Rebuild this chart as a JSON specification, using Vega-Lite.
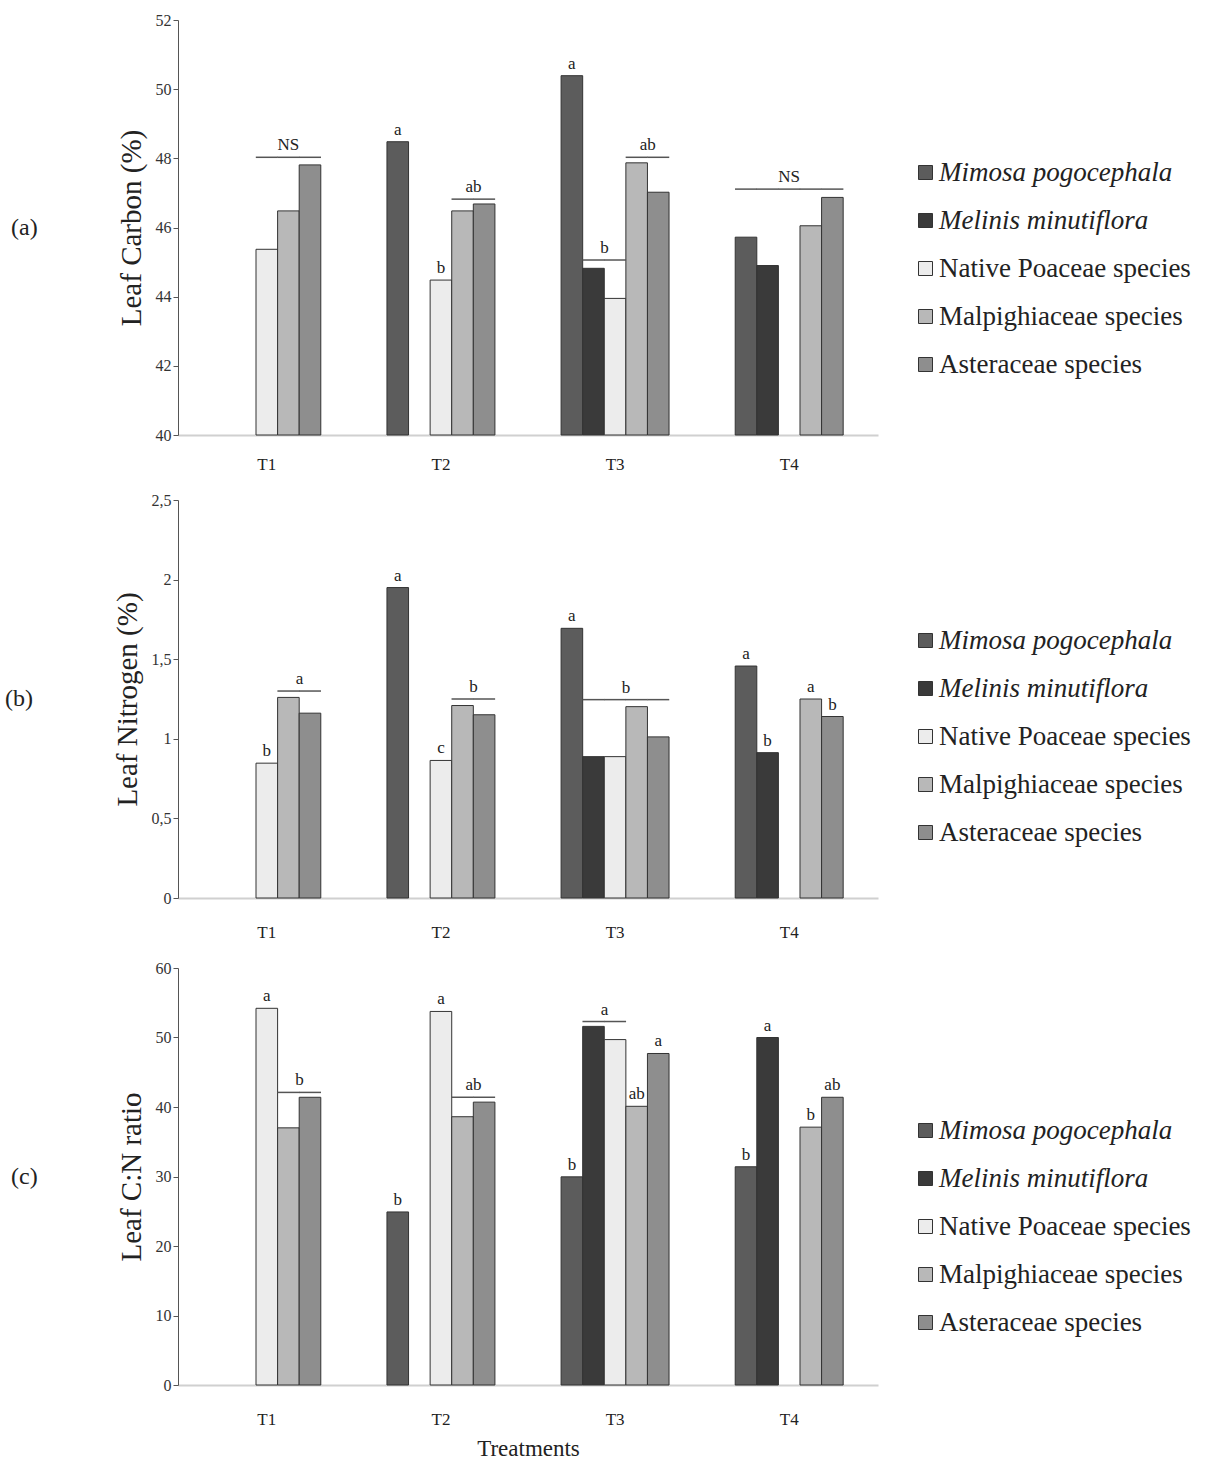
{
  "$schema": "https://vega.github.io/schema/vega-lite/v6.json",
  "background": "white",
  "padding": {"left": 5, "top": 12, "right": 5, "bottom": 5},
  "config": {
    "font": "Liberation Serif",
    "view": {"stroke": null},
    "axisY": {"domainColor": "#555", "tickColor": "#555", "tickSize": 5, "labelFontSize": 16, "labelColor": "#333", "grid": false, "titleFontSize": 29, "titleFontWeight": "normal", "titleColor": "#222", "titlePadding": 9, "labelFont": "Liberation Serif", "titleFont": "Liberation Serif"},
    "axisX": {"domainColor": "#d0d0d0", "domainWidth": 2, "ticks": false, "labelFontSize": 17, "labelColor": "#222", "labelPadding": 26, "labelAngle": 0, "titleFontSize": 23, "titleFontWeight": "normal", "titleColor": "#222", "labelFont": "Liberation Serif", "titleFont": "Liberation Serif"},
    "legend": {"title": null, "labelFontSize": 27, "labelFont": "Liberation Serif", "labelColor": "#222", "symbolType": "square", "symbolSize": 196, "symbolStrokeColor": "#333", "symbolStrokeWidth": 1, "rowPadding": 20, "labelOffset": 0, "labelLimit": 400},
    "title": {"font": "Liberation Serif", "fontSize": 24, "fontWeight": "normal", "color": "#222"}
  },
  "datasets": {
    "carbon": [
      {"T": "T1", "species": "Native Poaceae species", "value": 45.37},
      {"T": "T1", "species": "Malpighiaceae species", "value": 46.48},
      {"T": "T1", "species": "Asteraceae species", "value": 47.81},
      {"T": "T2", "species": "Mimosa pogocephala", "value": 48.48},
      {"T": "T2", "species": "Native Poaceae species", "value": 44.48},
      {"T": "T2", "species": "Malpighiaceae species", "value": 46.48},
      {"T": "T2", "species": "Asteraceae species", "value": 46.68},
      {"T": "T3", "species": "Mimosa pogocephala", "value": 50.39},
      {"T": "T3", "species": "Melinis minutiflora", "value": 44.82},
      {"T": "T3", "species": "Native Poaceae species", "value": 43.95},
      {"T": "T3", "species": "Malpighiaceae species", "value": 47.87},
      {"T": "T3", "species": "Asteraceae species", "value": 47.02},
      {"T": "T4", "species": "Mimosa pogocephala", "value": 45.72},
      {"T": "T4", "species": "Melinis minutiflora", "value": 44.9},
      {"T": "T4", "species": "Malpighiaceae species", "value": 46.05},
      {"T": "T4", "species": "Asteraceae species", "value": 46.87}
    ],
    "carbonLines": [
      {"T": "T1", "species": ["Native Poaceae species", "Malpighiaceae species", "Asteraceae species"], "value": 48.03},
      {"T": "T2", "species": ["Malpighiaceae species", "Asteraceae species"], "value": 46.82},
      {"T": "T3", "species": ["Melinis minutiflora", "Native Poaceae species"], "value": 45.06},
      {"T": "T3", "species": ["Malpighiaceae species", "Asteraceae species"], "value": 48.03},
      {"T": "T4", "species": ["Mimosa pogocephala", "Melinis minutiflora", "Native Poaceae species", "Malpighiaceae species", "Asteraceae species"], "value": 47.11}
    ],
    "carbonLabels": [
      {"T": "T1", "species": "Malpighiaceae species", "value": 48.03, "label": "NS"},
      {"T": "T2", "species": "Mimosa pogocephala", "value": 48.48, "label": "a"},
      {"T": "T2", "species": "Native Poaceae species", "value": 44.48, "label": "b"},
      {"T": "T3", "species": "Mimosa pogocephala", "value": 50.39, "label": "a"},
      {"T": "T4", "species": "Native Poaceae species", "value": 47.11, "label": "NS"}
    ],
    "carbonPairLabels": [
      {"T": "T2", "species": "Malpighiaceae species", "value": 46.82, "label": "ab"},
      {"T": "T3", "species": "Melinis minutiflora", "value": 45.06, "label": "b"},
      {"T": "T3", "species": "Malpighiaceae species", "value": 48.03, "label": "ab"}
    ],
    "nitrogen": [
      {"T": "T1", "species": "Native Poaceae species", "value": 0.847},
      {"T": "T1", "species": "Malpighiaceae species", "value": 1.26},
      {"T": "T1", "species": "Asteraceae species", "value": 1.161},
      {"T": "T2", "species": "Mimosa pogocephala", "value": 1.95},
      {"T": "T2", "species": "Native Poaceae species", "value": 0.864},
      {"T": "T2", "species": "Malpighiaceae species", "value": 1.209},
      {"T": "T2", "species": "Asteraceae species", "value": 1.151},
      {"T": "T3", "species": "Mimosa pogocephala", "value": 1.694},
      {"T": "T3", "species": "Melinis minutiflora", "value": 0.888},
      {"T": "T3", "species": "Native Poaceae species", "value": 0.888},
      {"T": "T3", "species": "Malpighiaceae species", "value": 1.202},
      {"T": "T3", "species": "Asteraceae species", "value": 1.012},
      {"T": "T4", "species": "Mimosa pogocephala", "value": 1.457},
      {"T": "T4", "species": "Melinis minutiflora", "value": 0.913},
      {"T": "T4", "species": "Malpighiaceae species", "value": 1.25},
      {"T": "T4", "species": "Asteraceae species", "value": 1.14}
    ],
    "nitrogenLines": [
      {"T": "T1", "species": ["Malpighiaceae species", "Asteraceae species"], "value": 1.30},
      {"T": "T2", "species": ["Malpighiaceae species", "Asteraceae species"], "value": 1.25},
      {"T": "T3", "species": ["Melinis minutiflora", "Native Poaceae species", "Malpighiaceae species", "Asteraceae species"], "value": 1.246}
    ],
    "nitrogenLabels": [
      {"T": "T1", "species": "Native Poaceae species", "value": 0.847, "label": "b"},
      {"T": "T2", "species": "Mimosa pogocephala", "value": 1.95, "label": "a"},
      {"T": "T2", "species": "Native Poaceae species", "value": 0.864, "label": "c"},
      {"T": "T3", "species": "Mimosa pogocephala", "value": 1.694, "label": "a"},
      {"T": "T4", "species": "Mimosa pogocephala", "value": 1.457, "label": "a"},
      {"T": "T4", "species": "Melinis minutiflora", "value": 0.913, "label": "b"},
      {"T": "T4", "species": "Malpighiaceae species", "value": 1.25, "label": "a"},
      {"T": "T4", "species": "Asteraceae species", "value": 1.14, "label": "b"}
    ],
    "nitrogenPairLabels": [
      {"T": "T1", "species": "Malpighiaceae species", "value": 1.30, "label": "a"},
      {"T": "T2", "species": "Malpighiaceae species", "value": 1.25, "label": "b"},
      {"T": "T3", "species": "Native Poaceae species", "value": 1.246, "label": "b"}
    ],
    "cn": [
      {"T": "T1", "species": "Native Poaceae species", "value": 54.2},
      {"T": "T1", "species": "Malpighiaceae species", "value": 37.0},
      {"T": "T1", "species": "Asteraceae species", "value": 41.4},
      {"T": "T2", "species": "Mimosa pogocephala", "value": 24.9},
      {"T": "T2", "species": "Native Poaceae species", "value": 53.75},
      {"T": "T2", "species": "Malpighiaceae species", "value": 38.6},
      {"T": "T2", "species": "Asteraceae species", "value": 40.7},
      {"T": "T3", "species": "Mimosa pogocephala", "value": 29.95},
      {"T": "T3", "species": "Melinis minutiflora", "value": 51.6},
      {"T": "T3", "species": "Native Poaceae species", "value": 49.7},
      {"T": "T3", "species": "Malpighiaceae species", "value": 40.1},
      {"T": "T3", "species": "Asteraceae species", "value": 47.7},
      {"T": "T4", "species": "Mimosa pogocephala", "value": 31.4},
      {"T": "T4", "species": "Melinis minutiflora", "value": 50.0},
      {"T": "T4", "species": "Malpighiaceae species", "value": 37.1},
      {"T": "T4", "species": "Asteraceae species", "value": 41.4}
    ],
    "cnLines": [
      {"T": "T1", "species": ["Malpighiaceae species", "Asteraceae species"], "value": 42.1},
      {"T": "T2", "species": ["Malpighiaceae species", "Asteraceae species"], "value": 41.4},
      {"T": "T3", "species": ["Melinis minutiflora", "Native Poaceae species"], "value": 52.3}
    ],
    "cnLabels": [
      {"T": "T1", "species": "Native Poaceae species", "value": 54.2, "label": "a"},
      {"T": "T2", "species": "Mimosa pogocephala", "value": 24.9, "label": "b"},
      {"T": "T2", "species": "Native Poaceae species", "value": 53.75, "label": "a"},
      {"T": "T3", "species": "Mimosa pogocephala", "value": 29.95, "label": "b"},
      {"T": "T3", "species": "Malpighiaceae species", "value": 40.1, "label": "ab"},
      {"T": "T3", "species": "Asteraceae species", "value": 47.7, "label": "a"},
      {"T": "T4", "species": "Mimosa pogocephala", "value": 31.4, "label": "b"},
      {"T": "T4", "species": "Melinis minutiflora", "value": 50.0, "label": "a"},
      {"T": "T4", "species": "Malpighiaceae species", "value": 37.1, "label": "b"},
      {"T": "T4", "species": "Asteraceae species", "value": 41.4, "label": "ab"}
    ],
    "cnPairLabels": [
      {"T": "T1", "species": "Malpighiaceae species", "value": 42.1, "label": "b"},
      {"T": "T2", "species": "Malpighiaceae species", "value": 41.4, "label": "ab"},
      {"T": "T3", "species": "Melinis minutiflora", "value": 52.3, "label": "a"}
    ]
  },
  "spacing": 20,
  "resolve": {"scale": {"color": "independent", "y": "independent", "x": "independent", "xOffset": "independent"}, "legend": {"color": "independent"}},
  "vconcat": [
    {
      "width": 700, "height": 415,
      "title": {"text": "(a)", "orient": "left", "angle": 0, "baseline": "middle", "anchor": "middle", "offset": 66},
      "encoding": {
        "x": {"field": "T", "type": "nominal", "scale": {"paddingInner": 0.38, "paddingOuter": 0.2}, "axis": {"title": null, "labelPadding": 21}},
        "xOffset": {"field": "species", "type": "nominal", "scale": {"domain": ["Mimosa pogocephala", "Melinis minutiflora", "Native Poaceae species", "Malpighiaceae species", "Asteraceae species"], "paddingInner": 0, "paddingOuter": 0}},
        "y": {"field": "value", "type": "quantitative", "scale": {"domain": [40, 52], "zero": false, "nice": false}, "axis": {"title": "Leaf Carbon (%)", "values": [40, 42, 44, 46, 48, 50, 52]}}
      },
      "layer": [
        {
          "data": {"name": "carbon"},
          "mark": {"type": "bar", "stroke": "#333", "strokeWidth": 1},
          "encoding": {
            "y2": {"datum": 40},
            "color": {"field": "species", "type": "nominal", "scale": {"domain": ["Mimosa pogocephala", "Melinis minutiflora", "Native Poaceae species", "Malpighiaceae species", "Asteraceae species"], "range": ["#5c5c5c", "#3a3a3a", "#ececec", "#b8b8b8", "#8e8e8e"]},
              "legend": {"orient": "none", "legendX": 734, "legendY": 139, "encode": {"labels": {"update": {"fontStyle": {"signal": "indexof(['Mimosa pogocephala','Melinis minutiflora'], datum.value) >= 0 ? 'italic' : 'normal'"}}}}}}
          }
        },
        {
          "data": {"name": "carbonLines"},
          "transform": [{"flatten": ["species"]}],
          "mark": {"type": "tick", "orient": "horizontal", "size": 22, "thickness": 1.5, "color": "#555", "opacity": 1}
        },
        {
          "data": {"name": "carbonLabels"},
          "mark": {"type": "text", "baseline": "bottom", "dy": -3, "fontSize": 17, "color": "#222"},
          "encoding": {"text": {"field": "label"}}
        },
        {
          "data": {"name": "carbonPairLabels"},
          "mark": {"type": "text", "baseline": "bottom", "dy": -3, "dx": 11, "fontSize": 17, "color": "#222"},
          "encoding": {"text": {"field": "label"}}
        }
      ]
    },
    {
      "width": 700, "height": 398,
      "title": {"text": "(b)", "orient": "left", "angle": 0, "baseline": "middle", "anchor": "middle", "offset": 66},
      "encoding": {
        "x": {"field": "T", "type": "nominal", "scale": {"paddingInner": 0.38, "paddingOuter": 0.2}, "axis": {"title": null}},
        "xOffset": {"field": "species", "type": "nominal", "scale": {"domain": ["Mimosa pogocephala", "Melinis minutiflora", "Native Poaceae species", "Malpighiaceae species", "Asteraceae species"], "paddingInner": 0, "paddingOuter": 0}},
        "y": {"field": "value", "type": "quantitative", "scale": {"domain": [0, 2.5], "nice": false}, "axis": {"title": "Leaf Nitrogen (%)", "values": [0, 0.5, 1, 1.5, 2, 2.5], "labelExpr": "replace(format(datum.value, '~g'), '.', ',')"}}
      },
      "layer": [
        {
          "data": {"name": "nitrogen"},
          "mark": {"type": "bar", "stroke": "#333", "strokeWidth": 1},
          "encoding": {
            "color": {"field": "species", "type": "nominal", "scale": {"domain": ["Mimosa pogocephala", "Melinis minutiflora", "Native Poaceae species", "Malpighiaceae species", "Asteraceae species"], "range": ["#5c5c5c", "#3a3a3a", "#ececec", "#b8b8b8", "#8e8e8e"]},
              "legend": {"orient": "none", "legendX": 734, "legendY": 127, "encode": {"labels": {"update": {"fontStyle": {"signal": "indexof(['Mimosa pogocephala','Melinis minutiflora'], datum.value) >= 0 ? 'italic' : 'normal'"}}}}}}
          }
        },
        {
          "data": {"name": "nitrogenLines"},
          "transform": [{"flatten": ["species"]}],
          "mark": {"type": "tick", "orient": "horizontal", "size": 22, "thickness": 1.5, "color": "#555", "opacity": 1}
        },
        {
          "data": {"name": "nitrogenLabels"},
          "mark": {"type": "text", "baseline": "bottom", "dy": -3, "fontSize": 17, "color": "#222"},
          "encoding": {"text": {"field": "label"}}
        },
        {
          "data": {"name": "nitrogenPairLabels"},
          "mark": {"type": "text", "baseline": "bottom", "dy": -3, "dx": 11, "fontSize": 17, "color": "#222"},
          "encoding": {"text": {"field": "label"}}
        }
      ]
    },
    {
      "width": 700, "height": 417,
      "title": {"text": "(c)", "orient": "left", "angle": 0, "baseline": "middle", "anchor": "middle", "offset": 66},
      "encoding": {
        "x": {"field": "T", "type": "nominal", "scale": {"paddingInner": 0.38, "paddingOuter": 0.2}, "axis": {"title": "Treatments", "titlePadding": 10}},
        "xOffset": {"field": "species", "type": "nominal", "scale": {"domain": ["Mimosa pogocephala", "Melinis minutiflora", "Native Poaceae species", "Malpighiaceae species", "Asteraceae species"], "paddingInner": 0, "paddingOuter": 0}},
        "y": {"field": "value", "type": "quantitative", "scale": {"domain": [0, 60], "nice": false}, "axis": {"title": "Leaf C:N ratio", "values": [0, 10, 20, 30, 40, 50, 60]}}
      },
      "layer": [
        {
          "data": {"name": "cn"},
          "mark": {"type": "bar", "stroke": "#333", "strokeWidth": 1},
          "encoding": {
            "color": {"field": "species", "type": "nominal", "scale": {"domain": ["Mimosa pogocephala", "Melinis minutiflora", "Native Poaceae species", "Malpighiaceae species", "Asteraceae species"], "range": ["#5c5c5c", "#3a3a3a", "#ececec", "#b8b8b8", "#8e8e8e"]},
              "legend": {"orient": "none", "legendX": 734, "legendY": 149, "encode": {"labels": {"update": {"fontStyle": {"signal": "indexof(['Mimosa pogocephala','Melinis minutiflora'], datum.value) >= 0 ? 'italic' : 'normal'"}}}}}}
          }
        },
        {
          "data": {"name": "cnLines"},
          "transform": [{"flatten": ["species"]}],
          "mark": {"type": "tick", "orient": "horizontal", "size": 22, "thickness": 1.5, "color": "#555", "opacity": 1}
        },
        {
          "data": {"name": "cnLabels"},
          "mark": {"type": "text", "baseline": "bottom", "dy": -3, "fontSize": 17, "color": "#222"},
          "encoding": {"text": {"field": "label"}}
        },
        {
          "data": {"name": "cnPairLabels"},
          "mark": {"type": "text", "baseline": "bottom", "dy": -3, "dx": 11, "fontSize": 17, "color": "#222"},
          "encoding": {"text": {"field": "label"}}
        }
      ]
    }
  ]
}
